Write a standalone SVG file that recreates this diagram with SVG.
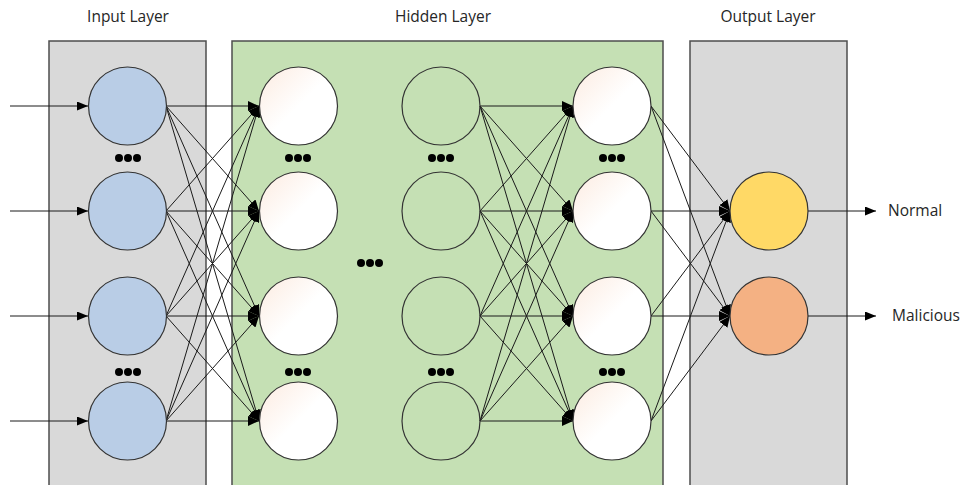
<svg xmlns="http://www.w3.org/2000/svg" width="967" height="485" viewBox="0 0 967 485">
<style>
.panel{stroke:#4d4d4d;stroke-width:1.5}
.gray{fill:#d9d9d9}
.green{fill:#c5e0b4}
.node{stroke:#333;stroke-width:1.2}
.in{fill:#b9cde6}
.hw{fill:url(#wg)}
.hg{fill:none}
.y{fill:#ffd966}
.o{fill:#f4b183}
.t{font-family:"Open Sans","Liberation Sans",sans-serif;font-size:15.5px;fill:#262626}
.c line{stroke:#1a1a1a;stroke-width:1}
.c .a{marker-end:url(#ah)}
.c .b{marker-end:url(#ahs)}
.dots circle{fill:#000}
</style>
<defs>
<linearGradient id="wg" x1="0" y1="0" x2="1" y2="1">
<stop offset="0" stop-color="#fcebe0"/>
<stop offset="0.5" stop-color="#ffffff"/>
<stop offset="1" stop-color="#ffffff"/>
</linearGradient>
<marker id="ah" markerUnits="userSpaceOnUse" markerWidth="12" markerHeight="10" refX="11" refY="5" orient="auto">
<path d="M0,0 L11,5 L0,10 z" fill="#000"/>
</marker>
<marker id="ahs" markerUnits="userSpaceOnUse" markerWidth="12" markerHeight="10" refX="11" refY="4.5" orient="auto">
<path d="M0,0 L11,4.5 L0,9 z" fill="#000"/>
</marker>
</defs>

<g id="panels">
<rect id="input-panel" class="panel gray" x="49" y="41" width="157" height="450"/>
<rect id="hidden-panel" class="panel green" x="232" y="41" width="431" height="450"/>
<rect id="output-panel" class="panel gray" x="690" y="41" width="157" height="450"/>
</g>

<g id="titles">
<text class="t" x="128" y="22" text-anchor="middle">Input Layer</text>
<text class="t" x="443" y="22" text-anchor="middle">Hidden Layer</text>
<text class="t" x="768" y="22" text-anchor="middle">Output Layer</text>
</g>

<g id="connectors" class="c">
<line class="b" x1="10" y1="106" x2="88" y2="106"/>
<line class="b" x1="10" y1="211" x2="88" y2="211"/>
<line class="b" x1="10" y1="316" x2="88" y2="316"/>
<line class="b" x1="10" y1="421" x2="88" y2="421"/>
<line class="a" x1="166" y1="106" x2="259" y2="106"/>
<line class="a" x1="166" y1="106" x2="259" y2="211"/>
<line class="a" x1="166" y1="106" x2="259" y2="316"/>
<line class="a" x1="166" y1="106" x2="259" y2="421"/>
<line class="a" x1="166" y1="211" x2="259" y2="106"/>
<line class="a" x1="166" y1="211" x2="259" y2="211"/>
<line class="a" x1="166" y1="211" x2="259" y2="316"/>
<line class="a" x1="166" y1="211" x2="259" y2="421"/>
<line class="a" x1="166" y1="316" x2="259" y2="106"/>
<line class="a" x1="166" y1="316" x2="259" y2="211"/>
<line class="a" x1="166" y1="316" x2="259" y2="316"/>
<line class="a" x1="166" y1="316" x2="259" y2="421"/>
<line class="a" x1="166" y1="421" x2="259" y2="106"/>
<line class="a" x1="166" y1="421" x2="259" y2="211"/>
<line class="a" x1="166" y1="421" x2="259" y2="316"/>
<line class="a" x1="166" y1="421" x2="259" y2="421"/>
<line class="a" x1="480" y1="106" x2="573" y2="106"/>
<line class="a" x1="480" y1="106" x2="573" y2="211"/>
<line class="a" x1="480" y1="106" x2="573" y2="316"/>
<line class="a" x1="480" y1="106" x2="573" y2="421"/>
<line class="a" x1="480" y1="211" x2="573" y2="106"/>
<line class="a" x1="480" y1="211" x2="573" y2="211"/>
<line class="a" x1="480" y1="211" x2="573" y2="316"/>
<line class="a" x1="480" y1="211" x2="573" y2="421"/>
<line class="a" x1="480" y1="316" x2="573" y2="106"/>
<line class="a" x1="480" y1="316" x2="573" y2="211"/>
<line class="a" x1="480" y1="316" x2="573" y2="316"/>
<line class="a" x1="480" y1="316" x2="573" y2="421"/>
<line class="a" x1="480" y1="421" x2="573" y2="106"/>
<line class="a" x1="480" y1="421" x2="573" y2="211"/>
<line class="a" x1="480" y1="421" x2="573" y2="316"/>
<line class="a" x1="480" y1="421" x2="573" y2="421"/>
<line class="a" x1="651" y1="106" x2="730" y2="211"/>
<line class="a" x1="651" y1="106" x2="730" y2="316"/>
<line class="a" x1="651" y1="211" x2="730" y2="211"/>
<line class="a" x1="651" y1="211" x2="730" y2="316"/>
<line class="a" x1="651" y1="316" x2="730" y2="211"/>
<line class="a" x1="651" y1="316" x2="730" y2="316"/>
<line class="a" x1="651" y1="421" x2="730" y2="211"/>
<line class="a" x1="651" y1="421" x2="730" y2="316"/>
<line class="b" x1="808" y1="211" x2="876" y2="211"/>
<line class="b" x1="808" y1="316" x2="876" y2="316"/>
</g>

<g id="input-nodes">
<circle id="in1" class="node in" cx="127.5" cy="106" r="39"/>
<circle id="in2" class="node in" cx="127.5" cy="211" r="39"/>
<circle id="in3" class="node in" cx="127.5" cy="316" r="39"/>
<circle id="in4" class="node in" cx="127.5" cy="421" r="39"/>
</g>
<g id="hidden1-nodes">
<circle id="h1a" class="node hw" cx="298.5" cy="106" r="39"/>
<circle id="h1b" class="node hw" cx="298.5" cy="211" r="39"/>
<circle id="h1c" class="node hw" cx="298.5" cy="316" r="39"/>
<circle id="h1d" class="node hw" cx="298.5" cy="421" r="39"/>
</g>
<g id="hidden2-nodes">
<circle id="h2a" class="node hg" cx="441" cy="106" r="39"/>
<circle id="h2b" class="node hg" cx="441" cy="211" r="39"/>
<circle id="h2c" class="node hg" cx="441" cy="316" r="39"/>
<circle id="h2d" class="node hg" cx="441" cy="421" r="39"/>
</g>
<g id="hidden3-nodes">
<circle id="h3a" class="node hw" cx="612" cy="106" r="39"/>
<circle id="h3b" class="node hw" cx="612" cy="211" r="39"/>
<circle id="h3c" class="node hw" cx="612" cy="316" r="39"/>
<circle id="h3d" class="node hw" cx="612" cy="421" r="39"/>
</g>
<g id="output-normal">
<circle class="node y" cx="769" cy="211" r="39"/>
<text class="t" x="888" y="216">Normal</text>
</g>
<g id="output-malicious">
<circle class="node o" cx="769" cy="316" r="39"/>
<text class="t" x="892" y="321">Malicious</text>
</g>

<g id="ellipses" class="dots">
<circle cx="119" cy="158" r="4"/><circle cx="128" cy="158" r="4"/><circle cx="137" cy="158" r="4"/>
<circle cx="119" cy="372" r="4"/><circle cx="128" cy="372" r="4"/><circle cx="137" cy="372" r="4"/>
<circle cx="289" cy="158" r="4"/><circle cx="298" cy="158" r="4"/><circle cx="307" cy="158" r="4"/>
<circle cx="289" cy="372" r="4"/><circle cx="298" cy="372" r="4"/><circle cx="307" cy="372" r="4"/>
<circle cx="432" cy="158" r="4"/><circle cx="441" cy="158" r="4"/><circle cx="450" cy="158" r="4"/>
<circle cx="432" cy="372" r="4"/><circle cx="441" cy="372" r="4"/><circle cx="450" cy="372" r="4"/>
<circle cx="603" cy="158" r="4"/><circle cx="612" cy="158" r="4"/><circle cx="621" cy="158" r="4"/>
<circle cx="603" cy="372" r="4"/><circle cx="612" cy="372" r="4"/><circle cx="621" cy="372" r="4"/>
<circle cx="361" cy="263" r="4"/><circle cx="370" cy="263" r="4"/><circle cx="379" cy="263" r="4"/>
</g>
</svg>
